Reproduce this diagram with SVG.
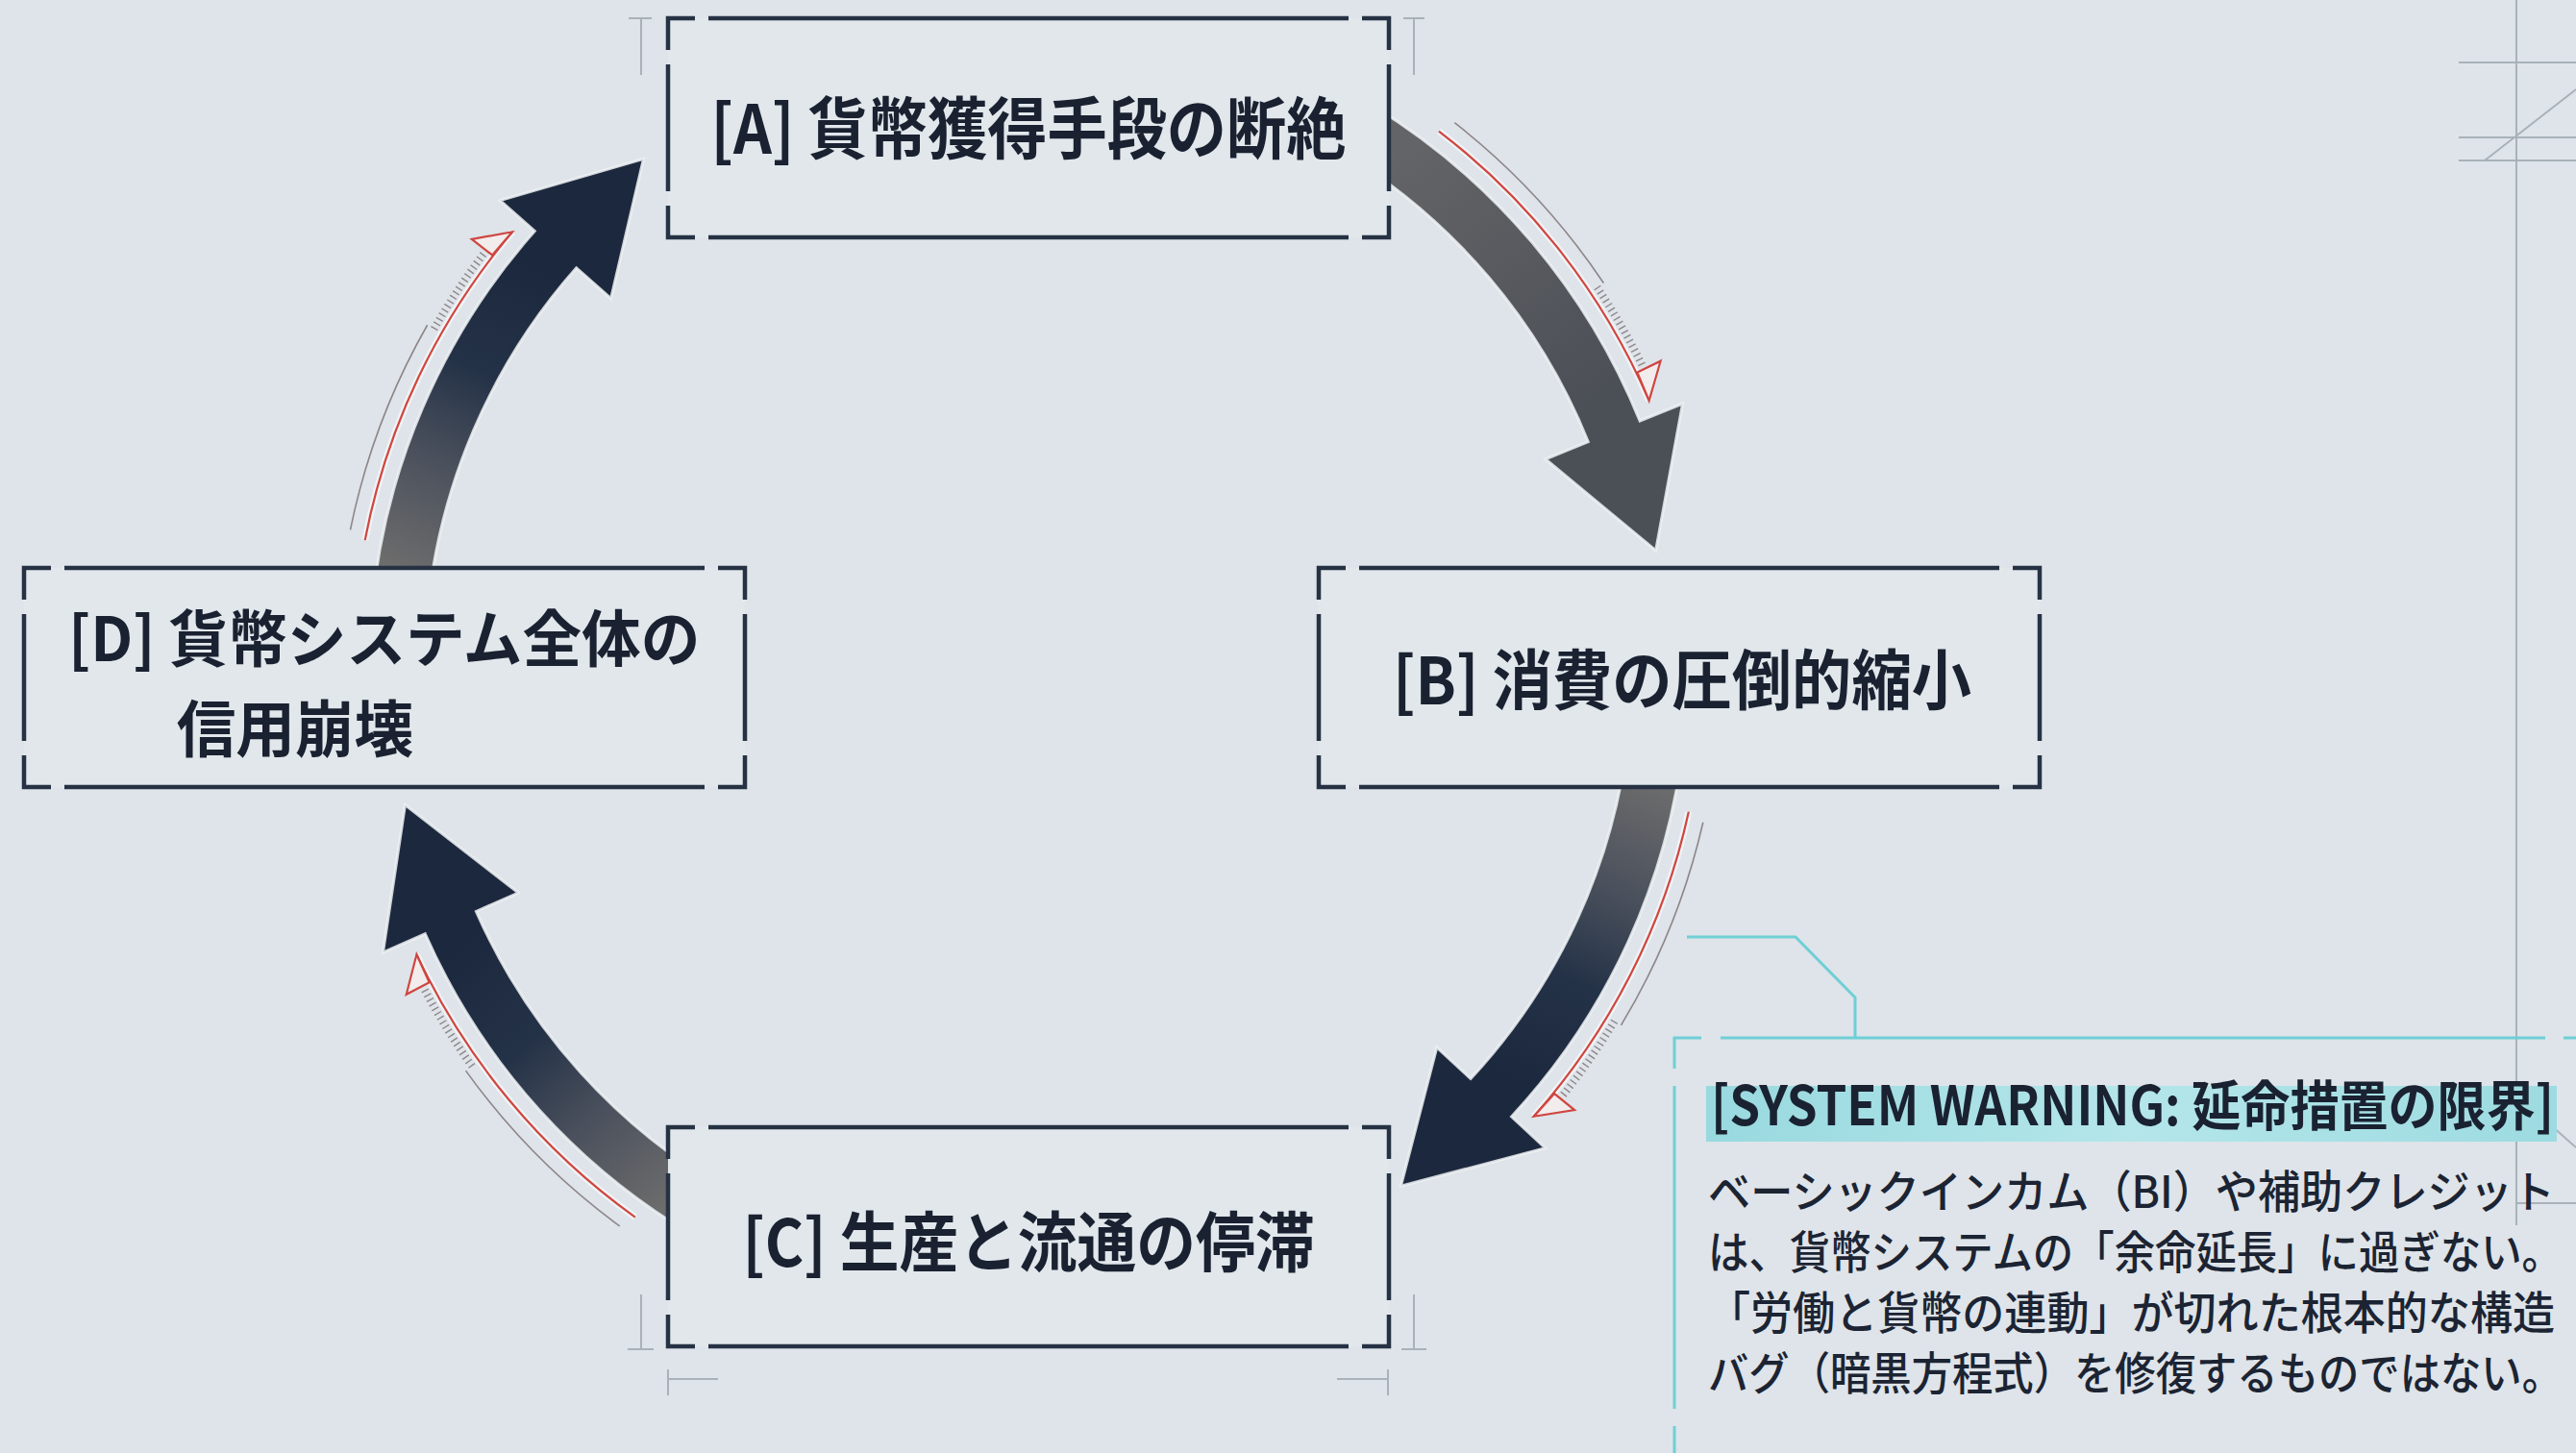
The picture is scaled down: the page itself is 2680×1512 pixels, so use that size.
<svg xmlns="http://www.w3.org/2000/svg" xmlns:xlink="http://www.w3.org/1999/xlink" width="2680" height="1512" viewBox="0 0 2680 1512">
<defs>
<style>
.frame{fill:none;stroke:#263244;stroke-width:4.5}
.boxbg{fill:#e1e7eb}
.lbl{font-family:"Noto Sans CJK JP","Noto Sans",sans-serif;font-weight:700;fill:#1a2231}
.body{font-family:"Noto Sans CJK JP","Noto Sans",sans-serif;font-weight:500;fill:#1c2433;font-size:42px}
.deco{stroke:#a9b2b9;stroke-width:2;fill:none}
.cyan{stroke:#6fcfd6;stroke-width:3;fill:none}
.arrow{stroke:#eef2f5;stroke-width:3;stroke-opacity:.85}
.red{fill:none;stroke:#cf4640;stroke-width:2.2}
.redglow{fill:none;stroke:#ffffff;stroke-width:7;stroke-opacity:.55}
.thin{fill:none;stroke:#8e8689;stroke-width:1.6}
.ticks{fill:none;stroke:#8e8689;stroke-width:8;stroke-dasharray:1.4 4}
.tri{fill:#f2eced;stroke:#cf4640;stroke-width:2.2;stroke-linejoin:miter}
</style>
<linearGradient id="gDark" gradientUnits="userSpaceOnUse" x1="1543" y1="239" x2="1707" y2="536">
<stop offset="0" stop-color="#6c6c6c"/>
<stop offset="0.35" stop-color="#4a505c"/>
<stop offset="0.65" stop-color="#243247"/>
<stop offset="1" stop-color="#1c283d"/>
</linearGradient>
<linearGradient id="gGray" gradientUnits="userSpaceOnUse" x1="1543" y1="239" x2="1707" y2="536">
<stop offset="0" stop-color="#636467"/>
<stop offset="1" stop-color="#4b4f56"/>
</linearGradient>
<linearGradient id="gHi" x1="0" y1="0" x2="1" y2="0">
<stop offset="0" stop-color="#98d9df"/>
<stop offset="0.5" stop-color="#b4e6ea"/>
<stop offset="1" stop-color="#9cdbe1"/>
</linearGradient>
<path id="arrowShape" d="M1529.0,185.2 A686,686 0 0 1 1742.5,559.4 L1789.5,549.9 L1734,695 L1638.6,580.4 L1685.6,570.9 A628,628 0 0 0 1490.2,228.3 Z"/>
<g id="trail">
<path class="redglow" d="M1592.4,224.6 A703,703 0 0 1 1755.8,540.4"/>
<path class="thin" d="M1610.1,218.9 A720,720 0 0 1 1731.8,411.4"/>
<path class="ticks" d="M1724.4,414.5 A712,712 0 0 1 1756.1,504.7"/>
<path class="red" d="M1592.4,224.6 A703,703 0 0 1 1755.8,540.4"/>
<path class="tri" d="M1755.8,540.4 L1749.1,509.2 L1775.1,502.1 Z"/>
</g>
<g id="frame">
<rect class="boxbg" x="0" y="0" width="750" height="228"/>
<path class="frame" d="M0,33 V0 H28 M42,0 H708 M722,0 H750 V33 M750,48 V180 M750,195 V228 H722 M708,228 H42 M28,228 H0 V195 M0,180 V48"/>
</g>
</defs>

<rect x="0" y="0" width="2680" height="1512" fill="#dee4e9"/>

<g id="decorations">
<path class="deco" d="M654,19 H678 M667,19 V78 M1460,19 H1482 M1471,19 V78"/>
<path class="deco" d="M667,1347 V1404 M653,1404 H680 M1471,1347 V1404 M1458,1404 H1484"/>
<path class="deco" d="M695,1425 V1452 M695,1435 H747 M1444,1425 V1452 M1391,1435 H1444"/>
<path class="deco" d="M2618,0 V1275 M2558,65 H2680 M2558,143 H2680 M2558,167 H2680 M2585,167 L2680,93 M2655,1172 L2680,1194 M2618,1252 H2680"/>
</g>

<g id="connectors">
<g id="edge-A-B" transform="rotate(-10.6 1070 695)">
<use xlink:href="#arrowShape" href="#arrowShape" class="arrow" fill="url(#gGray)"/>
<use xlink:href="#trail" href="#trail"/>
</g>
<g id="edge-B-C" transform="rotate(54.3 1070 695)">
<use xlink:href="#arrowShape" href="#arrowShape" class="arrow" fill="url(#gDark)"/>
<use xlink:href="#trail" href="#trail"/>
</g>
<g id="edge-C-D" transform="rotate(167.6 1070 695)">
<use xlink:href="#arrowShape" href="#arrowShape" class="arrow" fill="url(#gDark)"/>
<use xlink:href="#trail" href="#trail"/>
</g>
<g id="edge-D-A" transform="rotate(232.9 1070 695)">
<use xlink:href="#arrowShape" href="#arrowShape" class="arrow" fill="url(#gDark)"/>
<use xlink:href="#trail" href="#trail"/>
</g>
</g>

<g id="node-A">
<use xlink:href="#frame" href="#frame" x="695" y="19"/>
<text class="lbl" x="1070" y="160" text-anchor="middle" font-size="70" textLength="661" lengthAdjust="spacingAndGlyphs">[A] 貨幣獲得手段の断絶</text>
</g>
<g id="node-B">
<use xlink:href="#frame" href="#frame" x="1372" y="591"/>
<text class="lbl" x="1750" y="733" text-anchor="middle" font-size="68" textLength="602" lengthAdjust="spacingAndGlyphs">[B] 消費の圧倒的縮小</text>
</g>
<g id="node-C">
<use xlink:href="#frame" href="#frame" x="695" y="1173"/>
<text class="lbl" x="1070" y="1318" text-anchor="middle" font-size="68" textLength="595" lengthAdjust="spacingAndGlyphs">[C] 生産と流通の停滞</text>
</g>
<g id="node-D">
<use xlink:href="#frame" href="#frame" x="25" y="591"/>
<text class="lbl" font-size="64" transform="translate(71 0) scale(0.963 1)"><tspan x="0" y="688">[D] 貨幣システム全体の</tspan><tspan x="117" y="782">信用崩壊</tspan></text>
</g>

<g id="warning-panel">
<path class="cyan" stroke-width="2.5" d="M1755,975 H1868 L1930,1038 V1080"/>
<path class="cyan" d="M1742,1112 V1080 H1770 M1790,1080 H2648 M2667,1080 H2694 M1742,1130 V1466 M1742,1484 V1516"/>
<rect x="1775" y="1130" width="885" height="58" fill="url(#gHi)"/>
<text class="lbl" font-size="51" transform="translate(0 1171) scale(1 1.1)" x="1780" y="0" textLength="877" lengthAdjust="spacingAndGlyphs">[SYSTEM WARNING: 延命措置の限界]</text>
<text class="body" transform="translate(0 1257) scale(1 1.1)" x="1777" y="0" textLength="881" lengthAdjust="spacingAndGlyphs">ベーシックインカム（BI）や補助クレジット</text>
<text class="body" transform="translate(0 1320) scale(1 1.1)" x="1777" y="0" textLength="889" lengthAdjust="spacingAndGlyphs">は、貨幣システムの「余命延長」に過ぎない。</text>
<text class="body" transform="translate(0 1383) scale(1 1.1)" x="1777" y="0" textLength="881" lengthAdjust="spacingAndGlyphs">「労働と貨幣の連動」が切れた根本的な構造</text>
<text class="body" transform="translate(0 1446) scale(1 1.1)" x="1777" y="0" textLength="889" lengthAdjust="spacingAndGlyphs">バグ（暗黒方程式）を修復するものではない。</text>
</g>
</svg>
